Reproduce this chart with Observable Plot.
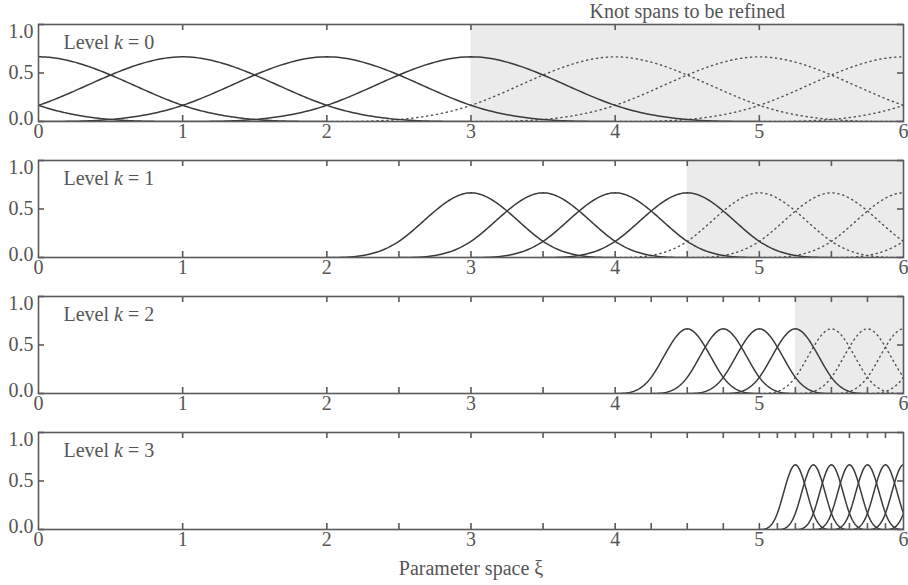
<!DOCTYPE html>
<html><head><meta charset="utf-8">
<script src="https://cdn.jsdelivr.net/npm/d3@7"></script>
<script src="https://cdn.jsdelivr.net/npm/@observablehq/plot@0.6"></script>
<style>
body{margin:0;background:#fff;}
#chart svg{display:block;overflow:visible;}
</style></head><body><div id="chart"></div>
<script>
// ---- data ----
const levels = [0, 1, 2, 3];
const spacing = [1, 0.5, 0.25, 0.125];
const activeCenters = [
  [-1, 0, 1, 2, 3],
  [3, 3.5, 4, 4.5],
  [4.5, 4.75, 5, 5.25],
  [5.25, 5.375, 5.5, 5.625, 5.75, 5.875, 6, 6.125]
];
const inactiveCenters = [
  [4, 5, 6, 7],
  [5, 5.5, 6, 6.5],
  [5.5, 5.75, 6, 6.25],
  []
];
const refineFrom = [3, 4.5, 5.25, null];
const knotTicks = [
  [1, 2, 3, 4, 5],
  [1, 2, 2.5, 3, 3.5, 4, 4.5, 5, 5.5],
  [1, 2, 2.5, 3, 3.5, 4, 4.25, 4.5, 4.75, 5, 5.25, 5.5, 5.75],
  [1, 2, 2.5, 3, 3.5, 4, 4.25, 4.5, 4.75, 5, 5.125, 5.25, 5.375, 5.5, 5.625, 5.75, 5.875]
];
const xLabels = [0, 1, 2, 3, 4, 5, 6];
const yLabels = [0, 0.5, 1];
const domainX = [0, 6];
const titleText = "Knot spans to be refined";
const xTitle = "Parameter space ξ";

// uniform cubic B-spline basis function centred at c with knot spacing h
function basis(x, c, h) {
  const t = Math.abs(x - c) / h;
  if (t < 1) return 2 / 3 - t * t + t * t * t / 2;
  if (t < 2) return Math.pow(2 - t, 3) / 6;
  return 0;
}
function sampled(c, h, active, id) {
  const a = Math.max(domainX[0], c - 2 * h), b = Math.min(domainX[1], c + 2 * h);
  const n = 160, pts = [];
  for (let j = 0; j <= n; j++) {
    const x = a + (b - a) * j / n;
    pts.push({x, y: basis(x, c, h), id, active});
  }
  return pts;
}

const W = 908, PH = 97, ML = 38, MR = 5, MT = 24;
const PW = W - ML - MR;
const ink = "#3a3a3a", frameInk = "#5a5a5a", txt = "#555";
const fmt = d3.format(".1f");
const chart = document.getElementById("chart");

levels.forEach((k, i) => {
  const h = spacing[i];
  const act = activeCenters[i].flatMap((c, j) => sampled(c, h, true, "a" + j));
  const ina = inactiveCenters[i].flatMap((c, j) => sampled(c, h, false, "i" + j));
  const last = i === levels.length - 1;
  const height = last ? 177 : 136;
  const marks = [];
  if (refineFrom[i] != null) {
    marks.push(Plot.rect([refineFrom[i]], {x1: d => d, x2: () => domainX[1], y1: () => 0, y2: () => 1, fill: "#ebebeb"}));
  }
  marks.push(
    Plot.line(ina, {x: "x", y: "y", z: "id", stroke: "#505050", strokeWidth: 1.4, strokeDasharray: "1.2,3.8", clip: true}),
    Plot.line(act, {x: "x", y: "y", z: "id", stroke: ink, strokeWidth: 1.5, clip: true}),
    Plot.frame({stroke: frameInk, strokeWidth: 1.6}),
    Plot.ruleX(knotTicks[i], {insetBottom: PH - 6, stroke: frameInk, strokeWidth: 1.6}),
    Plot.ruleX(knotTicks[i], {insetTop: PH - 6, stroke: frameInk, strokeWidth: 1.6}),
    Plot.ruleY(yLabels, {insetRight: PW - 6, stroke: frameInk, strokeWidth: 1.6}),
    Plot.ruleY(yLabels, {insetLeft: PW - 6, stroke: frameInk, strokeWidth: 1.6}),
    Plot.axisX({ticks: xLabels, tickSize: 0, tickPadding: 2, tickFormat: d => d, label: null}),
    Plot.axisY({ticks: [1], tickSize: 0, tickPadding: 5, dy: 7, tickFormat: fmt, label: null}),
    Plot.axisY({ticks: [0.5], tickSize: 0, tickPadding: 5, tickFormat: fmt, label: null}),
    Plot.axisY({ticks: [0], tickSize: 0, tickPadding: 5, dy: -3, tickFormat: fmt, label: null}),
    Plot.text([`Level k = ${k}`], {text: d => d, frameAnchor: "top-left", dx: 25, dy: 18, textAnchor: "start", lineAnchor: "middle"})
  );
  if (i === 0) {
    marks.push(Plot.text([titleText], {text: d => d, x: () => (refineFrom[0] + domainX[1]) / 2, frameAnchor: "top", dy: -13, lineAnchor: "middle"}));
  }
  if (last) {
    marks.push(Plot.text([xTitle], {text: d => d, frameAnchor: "bottom", dy: 39, lineAnchor: "middle"}));
  }
  const svg = Plot.plot({
    width: W, height,
    marginLeft: ML, marginRight: MR, marginTop: MT, marginBottom: height - MT - PH,
    x: {domain: domainX},
    y: {domain: [0, 1]},
    style: {fontFamily: "'Liberation Serif', 'DejaVu Serif', serif", fontSize: "20px", color: txt, background: "transparent", overflow: "visible"},
    marks
  });
  // italicise the k in the level label
  svg.querySelectorAll("text").forEach(t => {
    const s = t.textContent;
    if (s.startsWith("Level k")) {
      t.textContent = "";
      const ns = "http://www.w3.org/2000/svg";
      const a = document.createElementNS(ns, "tspan"); a.textContent = "Level ";
      const b = document.createElementNS(ns, "tspan"); b.textContent = "k"; b.setAttribute("font-style", "italic");
      const c = document.createElementNS(ns, "tspan"); c.textContent = s.slice(7);
      t.append(a, b, c);
    }
  });
  chart.appendChild(svg);
});
</script></body></html>
